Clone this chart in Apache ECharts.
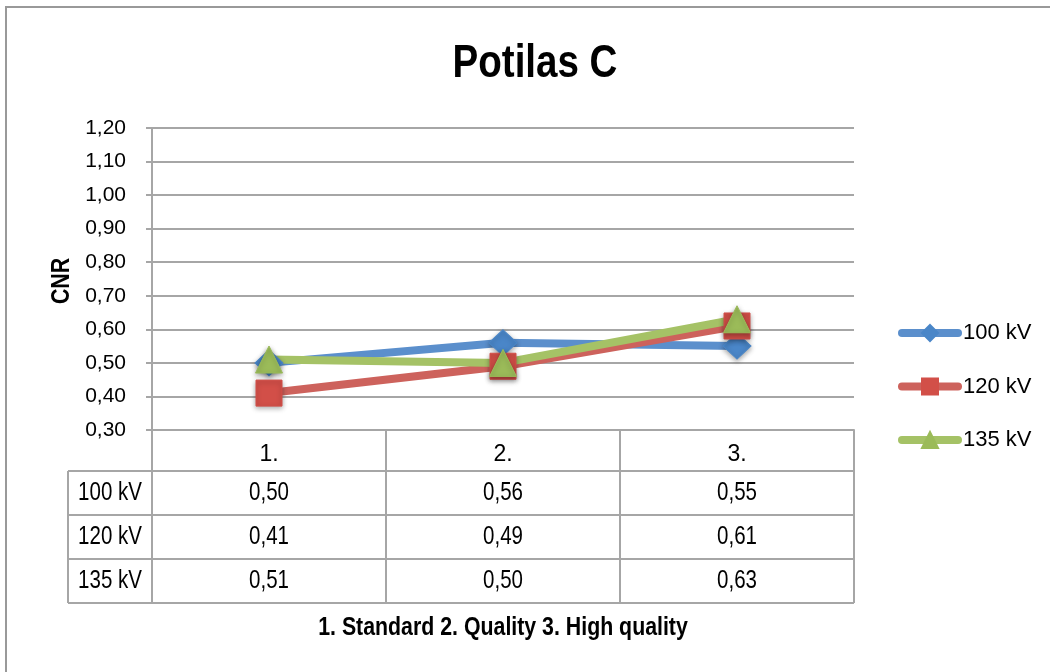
<!DOCTYPE html>
<html>
<head>
<meta charset="utf-8">
<script src="https://cdn.jsdelivr.net/npm/echarts@6/dist/echarts.min.js"></script>
<style>
  html, body { margin: 0; padding: 0; background: #ffffff; }
  #chart { width: 1050px; height: 672px; }
</style>
</head>
<body>
<div id="chart"></div>
<script>
// Chart data
const categories = ['1.', '2.', '3.'];
const seriesNames = ['100 kV', '120 kV', '135 kV'];
const kv100 = [0.50, 0.56, 0.55];
const kv120 = [0.41, 0.49, 0.61];
const kv135 = [0.51, 0.50, 0.63];
const yMin = 0.3;
const yMax = 1.2;
const yStep = 0.1;
const titleText = 'Potilas C';
const yAxisName = 'CNR';
const footerText = '1. Standard 2. Quality 3. High quality';

const seriesValues = [kv100, kv120, kv135];
const lineColors = ['#5b8fcc', '#cd625c', '#a5c266'];
const markerColors = ['#4a86c8', '#d24f48', '#9bbb59'];
const markerShapes = ['diamond', 'rect', 'triangle'];
const markerSizes = [[28, 26], [26, 26], [27, 27]];

const FONT = '"Liberation Sans Narrow", "Arial Narrow", "Liberation Sans", Arial, sans-serif';
const NARROW = 0.82; // horizontal squeeze to get a narrow face from the regular one
const GRID_COLOR = '#a6a6a6';
const fmt = v => v.toFixed(2).replace('.', ',');

const chart = echarts.init(document.getElementById('chart'), null, { renderer: 'canvas' });

chart.setOption({
  backgroundColor: '#ffffff',
  animation: false,
  textStyle: { fontFamily: FONT },
  grid: { left: 152, right: 196, top: 128, bottom: 242, containLabel: false },
  legend: {
    orient: 'vertical',
    left: 898,
    top: 322,
    padding: 0,
    itemWidth: 56,
    itemHeight: 20,
    itemGap: 31.5,
    lineStyle: { width: 8, cap: 'round' },
    textStyle: { fontFamily: FONT, fontSize: 22, color: '#000' },
    data: seriesNames
  },
  xAxis: {
    type: 'category',
    data: categories,
    boundaryGap: true,
    axisLine: { show: true, lineStyle: { color: GRID_COLOR, width: 2 } },
    axisTick: { show: false },
    axisLabel: { margin: 13, fontFamily: FONT, fontSize: 23, color: '#000' },
    splitLine: { show: false }
  },
  yAxis: {
    type: 'value',
    min: yMin,
    max: yMax,
    interval: yStep,
    axisLine: { show: true, lineStyle: { color: GRID_COLOR, width: 2 } },
    axisTick: { show: true, length: 6, lineStyle: { color: GRID_COLOR, width: 2 } },
    axisLabel: { margin: 26, fontFamily: FONT, fontSize: 21, color: '#000', formatter: v => fmt(v) },
    splitLine: { show: true, lineStyle: { color: GRID_COLOR, width: 2 } }
  },
  series: seriesNames.map((name, i) => ({
    name: name,
    type: 'line',
    data: seriesValues[i],
    symbol: markerShapes[i],
    symbolSize: markerSizes[i],
    lineStyle: { color: lineColors[i], width: 8, cap: 'round', join: 'round' },
    itemStyle: {
      color: markerColors[i],
      borderColor: markerColors[i],
      borderWidth: 1,
      shadowBlur: 5,
      shadowColor: 'rgba(0,0,0,0.35)',
      shadowOffsetY: 2
    },
    emphasis: { disabled: true }
  }))
});

function narrowText(x, y, text, font, extra) {
  return Object.assign({
    type: 'text', x: x, y: y, scaleX: NARROW,
    style: { text: text, font: font, fill: '#000', align: 'center', verticalAlign: 'middle' },
    silent: true
  }, extra || {});
}

// Data table under the plot, drawn from the same arrays
function buildTable() {
  const centers = categories.map((c, i) => chart.convertToPixel({ xAxisIndex: 0 }, i));
  const band = centers.length > 1 ? centers[1] - centers[0] : 234;
  const left = centers[0] - band / 2;
  const right = centers[centers.length - 1] + band / 2;
  const top = chart.convertToPixel({ yAxisIndex: 0 }, yMin);
  const headerH = 41;
  const rowH = 44;
  const labelLeft = 68;
  const bottom = top + headerH + rowH * seriesNames.length;
  const lineStyle = { stroke: GRID_COLOR, lineWidth: 2 };
  const els = [];

  // outer frame
  els.push({ type: 'rect', shape: { x: 6, y: 7, width: 1100, height: 700 },
    style: { fill: 'none', stroke: '#999999', lineWidth: 2 }, silent: true });

  // title, axis name, caption
  els.push(narrowText(535, 64, titleText, 'bold 47px ' + FONT));
  els.push(narrowText(62, 281, yAxisName, 'bold 26px ' + FONT, { rotation: Math.PI / 2 }));
  els.push(narrowText(503, 628, footerText, 'bold 26px ' + FONT));

  // vertical column lines
  for (let k = 0; k <= categories.length; k++) {
    const x = left + band * k;
    els.push({ type: 'line', shape: { x1: x, y1: top, x2: x, y2: bottom }, style: lineStyle, silent: true });
  }
  els.push({ type: 'line', shape: { x1: labelLeft, y1: top + headerH, x2: labelLeft, y2: bottom }, style: lineStyle, silent: true });

  // horizontal row lines
  for (let r = 0; r <= seriesNames.length; r++) {
    const y = top + headerH + rowH * r;
    els.push({ type: 'line', shape: { x1: labelLeft, y1: y, x2: right, y2: y }, style: lineStyle, silent: true });
  }

  // row labels and values
  seriesNames.forEach((name, r) => {
    const cy = top + headerH + rowH * r + rowH / 2;
    els.push(narrowText((labelLeft + left) / 2, cy, name, '25px ' + FONT));
    seriesValues[r].forEach((v, c) => {
      els.push(narrowText(centers[c], cy, fmt(v), '25px ' + FONT));
    });
  });

  chart.setOption({ graphic: { elements: els } });
}
buildTable();
</script>
</body>
</html>
